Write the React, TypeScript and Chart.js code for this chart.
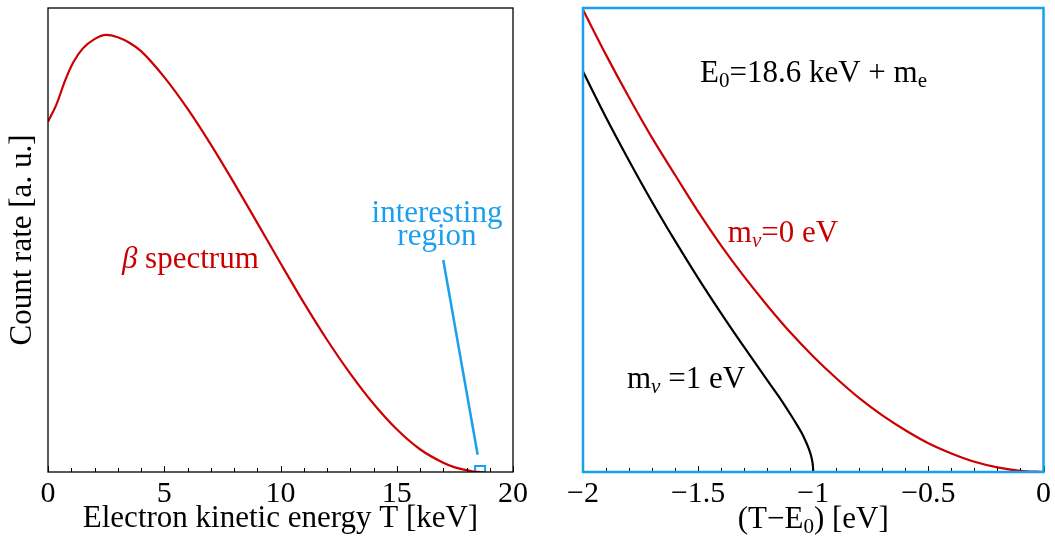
import React, { useEffect, useRef } from 'react';
import { Chart, registerables } from 'chart.js';

Chart.register(...registerables);

const FONT = '"Liberation Serif", "Times New Roman", serif';
const RED = '#cc0000';
const BLUE = '#1a9ff0';
const BLACK = '#000000';
const TEXT_SIZE = 31;
const SUB_SIZE = 21;

// ---- Left panel: full beta spectrum (T in keV, count rate in a.u.) ----
const spectrumT = [0, 0.37, 0.73, 1.09, 1.5, 2.0, 2.5, 3.0, 3.5, 4.0, 5.0, 6.0, 7.0, 8.0, 9.0, 10.0, 11.0, 12.0, 13.0, 14.0, 15.0, 16.0, 17.0, 17.5, 18.0, 18.3, 18.6];
const spectrumRate = [0.755, 0.793, 0.843, 0.883, 0.913, 0.933, 0.942, 0.937, 0.925, 0.907, 0.851, 0.783, 0.706, 0.623, 0.537, 0.45, 0.365, 0.285, 0.212, 0.147, 0.092, 0.049, 0.02, 0.01, 0.004, 0.001, 0];
const boxT = [18.37, 18.37, 18.8, 18.8, 18.37];
const boxRate = [0, 0.013, 0.013, 0, 0];
const pointerT = [17.0, 18.48];
const pointerRate = [0.457, 0.037];
const leftTickLabels = [0, 5, 10, 15, 20];

// ---- Right panel: end point region (T - E0 in eV) ----
const zeroMassX = [-2.0, -1.9, -1.8, -1.7, -1.6, -1.5, -1.4, -1.3, -1.2, -1.1, -1.0, -0.9, -0.8, -0.7, -0.6, -0.5, -0.4, -0.3, -0.2, -0.1, 0];
const zeroMassRate = [0.996, 0.899, 0.807, 0.72, 0.64, 0.561, 0.488, 0.421, 0.359, 0.301, 0.249, 0.202, 0.159, 0.122, 0.09, 0.062, 0.04, 0.022, 0.01, 0.0025, 0];
const oneEvX = [-2.0, -1.9, -1.8, -1.7, -1.6, -1.5, -1.4, -1.3, -1.2, -1.15, -1.1, -1.07, -1.05, -1.03, -1.02, -1.01, -1.005, -1.002, -1.0];
const oneEvRate = [0.863, 0.764, 0.671, 0.582, 0.498, 0.418, 0.342, 0.269, 0.198, 0.163, 0.125, 0.101, 0.084, 0.063, 0.051, 0.036, 0.025, 0.016, 0];
const rightTickLabels = [-2, -1.5, -1, -0.5, 0];

const zip = (xs: number[], ys: number[]) => xs.map((x, i) => ({ x, y: ys[i] }));

type Part = { t: string; size?: number; italic?: boolean; dy?: number };

function drawRich(ctx: CanvasRenderingContext2D, parts: Part[], x: number, baseline: number, align: 'left' | 'center', color: string) {
  ctx.save();
  ctx.fillStyle = color;
  ctx.textBaseline = 'alphabetic';
  ctx.textAlign = 'left';
  const fonts = parts.map((p) => `${p.italic ? 'italic ' : ''}${p.size ?? TEXT_SIZE}px ${FONT}`);
  let total = 0;
  const widths = parts.map((p, i) => {
    ctx.font = fonts[i];
    const w = ctx.measureText(p.t).width;
    total += w;
    return w;
  });
  let cx = align === 'center' ? x - total / 2 : x;
  parts.forEach((p, i) => {
    ctx.font = fonts[i];
    ctx.fillText(p.t, cx, baseline + (p.dy ?? 0));
    cx += widths[i];
  });
  ctx.restore();
}

function drawTickMarks(chart: any, minorStep: number) {
  const ctx: CanvasRenderingContext2D = chart.ctx;
  const xs = chart.scales.x;
  const bottom = chart.chartArea.bottom;
  const majors: number[] = xs.ticks.map((t: any) => t.value);
  ctx.save();
  ctx.strokeStyle = BLACK;
  ctx.lineWidth = 1;
  ctx.beginPath();
  const n = Math.round((xs.max - xs.min) / minorStep);
  for (let i = 0; i <= n; i++) {
    const v = xs.min + i * minorStep;
    const isMajor = majors.some((m) => Math.abs(m - v) < 1e-6);
    const px = Math.round(xs.getPixelForValue(v)) + 0.5;
    const len = isMajor ? 6 : 4;
    ctx.moveTo(px, bottom);
    ctx.lineTo(px, bottom - len);
  }
  ctx.stroke();
  ctx.restore();
}

const leftDecor = {
  id: 'leftDecor',
  afterDraw(chart: any) {
    const ctx: CanvasRenderingContext2D = chart.ctx;
    const { left, right, top, bottom } = chart.chartArea;
    const xs = chart.scales.x;
    const ys = chart.scales.y;
    drawTickMarks(chart, 1);
    ctx.save();
    ctx.strokeStyle = BLACK;
    ctx.lineWidth = 1.3;
    ctx.strokeRect(left, top, right - left, bottom - top);
    ctx.restore();
    drawRich(ctx, [{ t: 'β', italic: true }, { t: ' spectrum' }], xs.getPixelForValue(3.18), ys.getPixelForValue(0.44), 'left', RED);
    drawRich(ctx, [{ t: 'interesting' }], xs.getPixelForValue(16.73), ys.getPixelForValue(0.539), 'center', BLUE);
    drawRich(ctx, [{ t: 'region' }], xs.getPixelForValue(16.73), ys.getPixelForValue(0.489), 'center', BLUE);
  },
};

const rightDecor = {
  id: 'rightDecor',
  afterDraw(chart: any) {
    const ctx: CanvasRenderingContext2D = chart.ctx;
    const { left, right, top, bottom } = chart.chartArea;
    const xs = chart.scales.x;
    const ys = chart.scales.y;
    drawTickMarks(chart, 0.1);
    ctx.save();
    ctx.strokeStyle = BLUE;
    ctx.lineWidth = 2.5;
    ctx.strokeRect(left, top, right - left, bottom - top);
    ctx.restore();
    drawRich(
      ctx,
      [{ t: 'E' }, { t: '0', size: SUB_SIZE, dy: 5 }, { t: '=18.6 keV + m' }, { t: 'e', size: SUB_SIZE, dy: 5 }],
      xs.getPixelForValue(-1.492),
      ys.getPixelForValue(0.8405),
      'left',
      BLACK
    );
    drawRich(
      ctx,
      [{ t: 'm' }, { t: 'ν', size: SUB_SIZE, italic: true, dy: 5 }, { t: '=0 eV' }],
      xs.getPixelForValue(-1.371),
      ys.getPixelForValue(0.496),
      'left',
      RED
    );
    drawRich(
      ctx,
      [{ t: 'm' }, { t: 'ν', size: SUB_SIZE, italic: true, dy: 5 }, { t: ' =1 eV' }],
      xs.getPixelForValue(-1.809),
      ys.getPixelForValue(0.181),
      'left',
      BLACK
    );
    drawRich(
      ctx,
      [{ t: '(T−E' }, { t: '0', size: SUB_SIZE, dy: 5 }, { t: ') [eV]' }],
      (left + right) / 2,
      chart.height - 11,
      'center',
      BLACK
    );
  },
};

const tickFont = { family: FONT, size: 30 };

function LeftPanel() {
  const ref = useRef<HTMLCanvasElement | null>(null);
  useEffect(() => {
    if (!ref.current) return;
    const chart = new Chart(ref.current, {
      type: 'line',
      data: {
        datasets: [
          { data: zip(spectrumT, spectrumRate), borderColor: RED, borderWidth: 2.2, pointRadius: 0, cubicInterpolationMode: 'monotone', fill: false },
          { data: zip(boxT, boxRate), borderColor: BLUE, borderWidth: 2, pointRadius: 0, tension: 0, fill: false },
          { data: zip(pointerT, pointerRate), borderColor: BLUE, borderWidth: 2.5, pointRadius: 0, tension: 0, fill: false },
        ],
      } as any,
      options: {
        animation: false,
        responsive: false,
        devicePixelRatio: 1,
        parsing: false,
        layout: { padding: { top: 8, right: 22, left: 0, bottom: 0 } },
        plugins: { legend: { display: false }, tooltip: { enabled: false } },
        scales: {
          x: {
            type: 'linear',
            min: leftTickLabels[0],
            max: leftTickLabels[leftTickLabels.length - 1],
            grid: { display: false, drawTicks: false },
            border: { display: false },
            afterBuildTicks: (s: any) => { s.ticks = leftTickLabels.map((v) => ({ value: v })); },
            ticks: { color: BLACK, font: tickFont, padding: 4, maxRotation: 0, autoSkip: false, callback: (v: any) => String(v) },
            title: { display: true, text: 'Electron kinetic energy T [keV]', color: BLACK, font: { family: FONT, size: TEXT_SIZE, lineHeight: 1.2 }, padding: { top: 0, bottom: 2 } },
            afterFit: (s: any) => { s.height = 67; },
          },
          y: {
            type: 'linear',
            min: 0,
            max: 1,
            grid: { display: false, drawTicks: false },
            border: { display: false },
            ticks: { display: false },
            title: { display: true, text: 'Count rate [a. u.]', color: BLACK, font: { family: FONT, size: TEXT_SIZE, lineHeight: 1.2 }, padding: { top: 4, bottom: 0 } },
            afterFit: (s: any) => { s.width = 48; },
          },
        },
      } as any,
      plugins: [leftDecor],
    });
    return () => chart.destroy();
  }, []);
  return <canvas ref={ref} width={535} height={539} style={{ position: 'absolute', left: 0, top: 0 }} />;
}

function RightPanel() {
  const ref = useRef<HTMLCanvasElement | null>(null);
  useEffect(() => {
    if (!ref.current) return;
    const chart = new Chart(ref.current, {
      type: 'line',
      data: {
        datasets: [
          { data: zip(zeroMassX, zeroMassRate), borderColor: RED, borderWidth: 2.2, pointRadius: 0, cubicInterpolationMode: 'monotone', fill: false },
          { data: zip(oneEvX, oneEvRate), borderColor: BLACK, borderWidth: 2.2, pointRadius: 0, cubicInterpolationMode: 'monotone', fill: false },
        ],
      } as any,
      options: {
        animation: false,
        responsive: false,
        devicePixelRatio: 1,
        parsing: false,
        layout: { padding: { top: 8, right: 11, left: 48, bottom: 0 } },
        plugins: { legend: { display: false }, tooltip: { enabled: false } },
        scales: {
          x: {
            type: 'linear',
            min: rightTickLabels[0],
            max: rightTickLabels[rightTickLabels.length - 1],
            grid: { display: false, drawTicks: false },
            border: { display: false },
            afterBuildTicks: (s: any) => { s.ticks = rightTickLabels.map((v) => ({ value: v })); },
            ticks: {
              color: BLACK,
              font: tickFont,
              padding: 4,
              maxRotation: 0,
              autoSkip: false,
              callback: (v: any) => (v < 0 ? '−' + String(Math.abs(v)) : String(v)),
            },
            title: { display: false },
            afterFit: (s: any) => { s.height = 67; },
          },
          y: { type: 'linear', min: 0, max: 1, display: false },
        },
      } as any,
      plugins: [rightDecor],
    });
    return () => chart.destroy();
  }, []);
  return <canvas ref={ref} width={520} height={539} style={{ position: 'absolute', left: 535, top: 0 }} />;
}

export default function App() {
  return (
    <div style={{ position: 'fixed', left: 0, top: 0, width: 1055, height: 539, background: '#fff', overflow: 'hidden' }}>
      <LeftPanel />
      <RightPanel />
    </div>
  );
}
